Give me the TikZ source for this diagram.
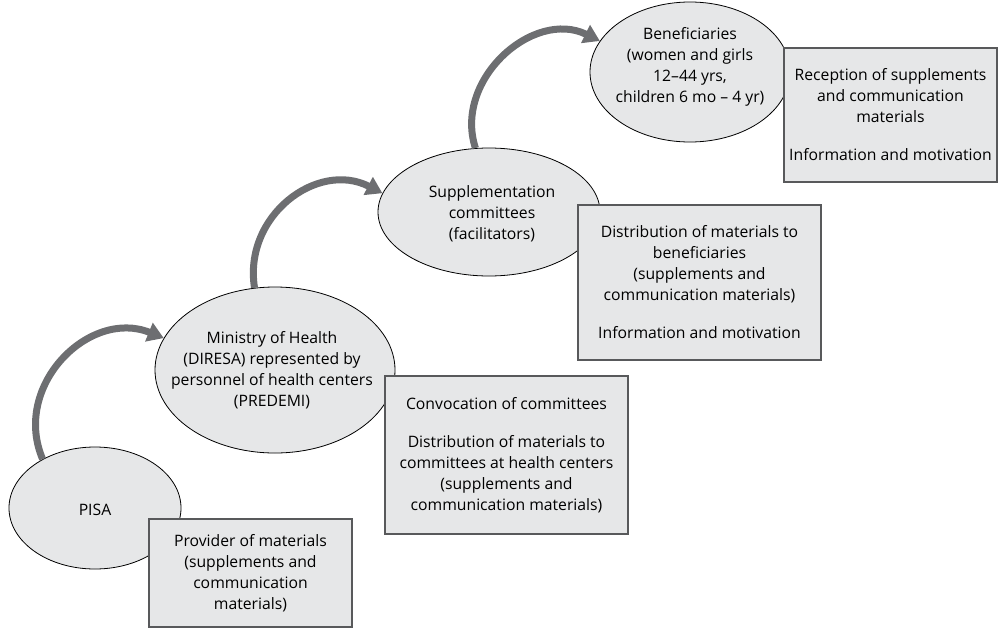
\documentclass[tikz,border=0pt]{standalone}
\usepackage{fontspec}
\setmainfont{Open Sans}
\usetikzlibrary{shapes.geometric,arrows.meta}
\definecolor{fillgray}{HTML}{E6E7E8}
\definecolor{boxline}{HTML}{58595B}
\definecolor{arrowgray}{HTML}{6D6E71}
\newcommand\bodyfont{\fontsize{11.8}{15.75}\selectfont}
\begin{document}
\begin{tikzpicture}[x=0.75pt,y=0.75pt,
  ell/.style={ellipse,draw=black,line width=0.6pt,fill=fillgray,inner sep=0pt},
  infobox/.style={rectangle,draw=boxline,line width=0.9pt,fill=fillgray,inner sep=0pt,align=center,font=\bodyfont},
  txt/.style={align=center,font=\bodyfont,inner sep=0pt},
  flow/.style={draw=arrowgray,line width=5.25pt,-{Triangle[length=12pt,width=14.5pt]}}]
\useasboundingbox (0,0) rectangle (998,-628);

% actors along the supply chain
\node[ell,minimum width=129pt,minimum height=91.5pt] (pisa) at (95,-508) {};
\node[ell,minimum width=180pt,minimum height=124.5pt] (min) at (275,-370) {};
\node[ell,minimum width=166.5pt,minimum height=96pt] (sup) at (489,-212) {};
\node[ell,minimum width=150pt,minimum height=105pt] (ben) at (690,-72) {};

\node[txt] (pisatxt) at (95,-510) {PISA};
\node[txt] (mintxt) at (272,-370) {Ministry of Health\\(DIRESA) represented by\\personnel of health centers\\(PREDEMI)};
\node[txt] (suptxt) at (492,-214) {Supplementation\\committees\\(facilitators)};
\node[txt] (bentxt) at (690,-67) {Beneficiaries\\(women and girls\\12–44 yrs,\\children 6 mo – 4 yr)};

% role of each actor
\node[infobox,minimum width=152.25pt,minimum height=81pt] (prov) at (250.5,-573) {Provider of materials\\(supplements and\\communication\\materials)};
\node[infobox,minimum width=182.25pt,minimum height=118.5pt] (conv) at (506.5,-455) {Convocation of committees\\[12.75pt]Distribution of materials to\\committees at health centers\\(supplements and\\communication materials)};
\node[infobox,minimum width=182.25pt,minimum height=116.25pt] (dist) at (699.5,-282.5) {Distribution of materials to\\beneficiaries\\(supplements and\\communication materials)\\[12.75pt]Information and motivation};
\node[infobox,minimum width=159.75pt,minimum height=100.5pt] (recp) at (890.5,-115) {Reception of supplements\\and communication\\materials\\[12.75pt]Information and motivation};

% flow between actors
\draw[flow] (pisa.137.8) .. controls +(113:80) and +(158:80) .. (min.164);
\draw[flow] (min.104.8) .. controls +(99:73) and +(153:73) .. (sup.170);
\draw[flow] (sup.102.7) .. controls +(108:72) and +(154:74) .. (ben.161.6);
\end{tikzpicture}
\end{document}
